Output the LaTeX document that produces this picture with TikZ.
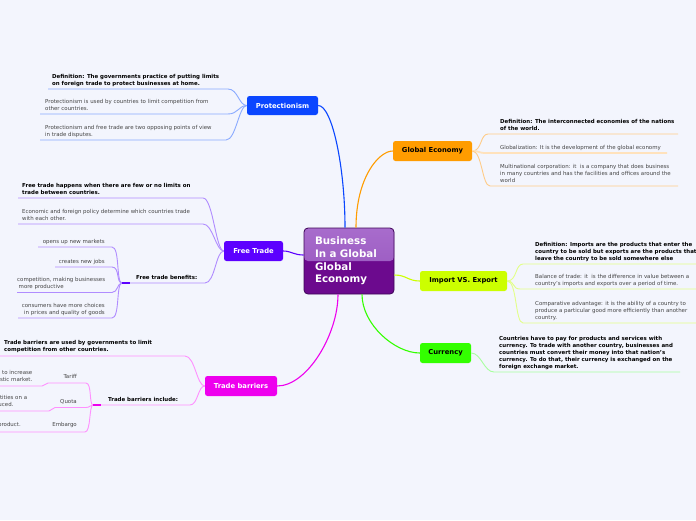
\documentclass[tikz,border=0pt]{standalone}
\usepackage{fontspec}
\setmainfont{DejaVu Sans}
\usetikzlibrary{calc}
\definecolor{bgc}{HTML}{F3F5FD}
\definecolor{protc}{HTML}{0A46FF}
\definecolor{protl}{HTML}{8AAAFF}
\definecolor{gec}{HTML}{FF9C00}
\definecolor{gel}{HTML}{FFCC88}
\definecolor{gell}{HTML}{FFE2BC}
\definecolor{ftc}{HTML}{5C00FF}
\definecolor{ftl}{HTML}{B08CFF}
\definecolor{iec}{HTML}{CCFF00}
\definecolor{iel}{HTML}{E2FF88}
\definecolor{curc}{HTML}{33FF00}
\definecolor{curl}{HTML}{A8FFA0}
\definecolor{tbc}{HTML}{EE00EE}
\definecolor{tbl}{HTML}{FF90FF}
\definecolor{subtext}{HTML}{444444}
\definecolor{ctopA}{HTML}{A86CCC}
\definecolor{ctop}{HTML}{9452BC}
\definecolor{cbot}{HTML}{6C0A8E}
\definecolor{cborder}{HTML}{3E0658}
\begin{document}
\begin{tikzpicture}[x=1pt,y=-1pt,
  sub/.style={font=\fontsize{5.45}{7}\selectfont, text=subtext, inner sep=0pt, align=left, anchor=south west, text depth=1.2pt},
  subb/.style={sub, font=\fontsize{5.45}{7}\selectfont\bfseries, text=black},
  subr/.style={sub, align=right, anchor=south east},
  mainn/.style={rounded corners=2.5pt, font=\fontsize{6.8}{8}\selectfont\bfseries, minimum height=20pt, inner sep=0pt},
  cline/.style={line width=1.1pt},
  lnk/.style={line width=0.9pt},
  stub/.style={line width=1.6pt},
]
\useasboundingbox (0,0) rectangle (696,520);
\clip (0,0) rectangle (696,520);
\fill[bgc] (0,0) rectangle (696,520);

% central node
\node[draw=cborder, line width=0.8pt, rounded corners=4pt, minimum width=90pt, minimum height=66pt,
  fill=cbot, text=white, font=\fontsize{10.3}{12.7}\selectfont\bfseries, align=left,
  text width=68pt, inner xsep=11pt, inner ysep=0pt,
  path picture={\fill[top color=ctopA, bottom color=ctop] (path picture bounding box.north west) rectangle (path picture bounding box.east);}]
  (c) at (349,261) {Business\\In a Global\\Global\\Economy};

% main topics
\node[mainn, fill=protc, text=white, minimum width=71pt, minimum height=19pt] (prot) at (282.5,105.5) {Protectionism};
\node[mainn, fill=gec, text=black, minimum width=79pt] (ge) at (432.5,151) {Global Economy};
\node[mainn, fill=ftc, text=white, minimum width=59pt] (ft) at (253.5,251) {Free Trade};
\node[mainn, fill=iec, text=black, minimum width=87pt] (ie) at (463.5,281) {Import VS. Export};
\node[mainn, fill=curc, text=black, minimum width=51pt] (cur) at (445.5,353) {Currency};
\node[mainn, fill=tbc, text=white, minimum width=72pt] (tb) at (241,386) {Trade barriers};

% central connectors
\draw[cline, protc] ([xshift=-4pt]c.north) .. controls +(0,-60) and +(14,0) .. (prot.east);
\draw[cline, gec] ([xshift=7pt]c.north) .. controls +(0,-50) and +(-14,0) .. (ge.west);
\draw[cline, ftc] ([yshift=6pt]c.west) .. controls +(-10,0) and +(8,0) .. (ft.east);
\draw[cline, iec] ([yshift=-14pt]c.east) .. controls +(12,0) and +(-12,0) .. (ie.west);
\draw[cline, curc] ([xshift=13pt]c.south) .. controls +(0,30) and +(-25,0) .. (cur.west);
\draw[cline, tbc] ([xshift=-11pt]c.south) .. controls +(0,40) and +(30,0) .. (tb.east);

% Protectionism
\node[subb] (p1) at (52,86.5) {Definition: The governments practice of putting limits\\on foreign trade to protect businesses at home.};
\node[sub] (p2) at (45,111.5) {Protectionism is used by countries to limit competition from\\other countries.};
\node[sub] (p3) at (45,137.5) {Protectionism and free trade are two opposing points of view\\in trade disputes.};
\coordinate (p1a) at (48,89); \coordinate (p1b) at (228,89);
\coordinate (p2a) at (40,114); \coordinate (p2b) at (228,114);
\coordinate (p3a) at (40,140); \coordinate (p3b) at (226,140);
\draw[lnk, protl] (p1a) -- (p1b) .. controls +(10,0) and +(-8,0) .. (prot.west);
\draw[lnk, protl] (p2a) -- (p2b) .. controls +(10,0) and +(-8,0) .. (prot.west);
\draw[lnk, protl] (p3a) -- (p3b) .. controls +(10,0) and +(-8,0) .. (prot.west);

% Global Economy
\node[subb] (g1) at (500,131.5) {Definition: The interconnected economies of the nations\\of the world.};
\node[sub] (g2) at (500,150.5) {Globalization: It is the development of the global economy};
\node[sub] (g3) at (500,183.5) {Multinational corporation: it\ \ is a company that does business\\in many countries and has the facilities and offices around the\\world};
\coordinate (g1a) at (488,134); \coordinate (g1b) at (678,134);
\coordinate (g2a) at (486,153); \coordinate (g2b) at (667,153);
\coordinate (g3a) at (490,186); \coordinate (g3b) at (678,186);
\draw[lnk, gel] (ge.east) .. controls +(10,0) and +(-8,0) .. (g1a) -- (g1b);
\draw[line width=1.8pt, gell] (ge.east) .. controls +(8,0) and +(-8,0) .. (g2a) -- (g2b);
\draw[lnk, gel] (ge.east) .. controls +(10,0) and +(-8,0) .. (g3a) -- (g3b);

% Import VS Export
\node[subb] (i1) at (535,261.5) {Definition: Imports are the products that enter the\\country to be sold but exports are the products that\\leave the country to be sold somewhere else};
\node[sub] (i2) at (535,286.5) {Balance of trade: it\ \ is the difference in value between a\\country's imports and exports over a period of time.};
\node[sub] (i3) at (535,320.5) {Comparative advantage: it is the ability of a country to\\produce a particular good more efficiently than another\\country.};
\coordinate (i1a) at (523,264); \coordinate (i1b) at (696,264);
\coordinate (i2a) at (520,289); \coordinate (i2b) at (696,289);
\coordinate (i3a) at (523,323); \coordinate (i3b) at (696,323);
\draw[lnk, iel] (ie.east) .. controls +(10,0) and +(-8,0) .. (i1a) -- (i1b);
\draw[lnk, iel] (ie.east) .. controls +(8,0) and +(-8,0) .. (i2a) -- (i2b);
\draw[lnk, iel] (ie.east) .. controls +(10,0) and +(-8,0) .. (i3a) -- (i3b);

% Currency
\node[subb] (c1) at (499,369.5) {Countries have to pay for products and services with\\currency. To trade with another country, businesses and\\countries must convert their money into that nation's\\currency. To do that, their currency is exchanged on the\\foreign exchange market.};
\coordinate (c1a) at (494,372); \coordinate (c1b) at (680,372);
\draw[lnk, curl] (cur.east) .. controls +(10,0) and +(-10,0) .. (c1a) -- (c1b);

% Free Trade
\node[subb] (f1) at (22,195.5) {Free trade happens when there are few or no limits on\\trade between countries.};
\node[sub] (f2) at (22,221.5) {Economic and foreign policy determine which countries trade\\with each other.};
\node[subb] (f3) at (136,280.5) {Free trade benefits:};
\coordinate (f1a) at (18,198); \coordinate (f1b) at (203,198);
\coordinate (f2a) at (18,224); \coordinate (f2b) at (203,224);
\coordinate (benj) at (122,283); \coordinate (f3b) at (205,283);
\draw[lnk, ftl] (f1a) -- (f1b) .. controls +(10,0) and +(-8,0) .. (ft.west);
\draw[lnk, ftl] (f2a) -- (f2b) .. controls +(10,0) and +(-8,0) .. (ft.west);
\draw[lnk, ftl] (benj) -- (f3b) .. controls +(10,0) and +(-8,0) .. (ft.west);

\node[subr] (b1) at (105,244.5) {opens up new markets};
\node[subr] (b2) at (105,264.5) {creates new jobs};
\node[sub] (b3) at (17,290) {competition, making businesses\\\hspace*{1.5pt}more productive};
\node[subr] (b4) at (105,315.5) {consumers have more choices\\in prices and quality of goods};
\coordinate (b1a) at (38,247); \coordinate (b1b) at (112,247);
\coordinate (b2a) at (55,267); \coordinate (b2b) at (112,267);
\coordinate (b3a) at (17,292.5); \coordinate (b3b) at (112,292.5);
\coordinate (b4a) at (18,318); \coordinate (b4b) at (112,318);
\draw[lnk, ftl] (b1a) -- (b1b) .. controls +(8,0) and +(-6,0) .. (benj);
\draw[lnk, ftl] (b2a) -- (b2b) .. controls +(8,0) and +(-6,0) .. (benj);
\draw[lnk, ftl] (b3a) -- (b3b) .. controls +(6,0) and +(-5,0) .. (benj);
\draw[lnk, ftl] (b4a) -- (b4b) .. controls +(8,0) and +(-6,0) .. (benj);
\draw[stub, ftc] (benj) -- ++(8,0);

% Trade barriers
\node[subb] (t1) at (4,353) {Trade barriers are used by governments to limit\\competition from other countries.};
\node[subb] (t2) at (108,402.5) {Trade barriers include:};
\coordinate (t1a) at (0,356); \coordinate (t1b) at (185,356);
\coordinate (tbj) at (93,405); \coordinate (t2b) at (190,405);
\draw[lnk, tbl] (t1a) -- (t1b) .. controls +(10,0) and +(-8,0) .. (tb.west);
\draw[lnk, tbl] (tbj) -- (t2b) .. controls +(8,0) and +(-7,0) .. (tb.west);

\node[subr] (tar) at (77,379.8) {Tariff};
\node[subr] (quo) at (77,405.3) {Quota};
\node[subr] (emb) at (77,427.6) {Embargo};
\node[subr] (tarc) at (32.5,383) {Tax on imports used to increase\\prices in the domestic market.};
\node[sub, anchor=south east] (quoc) at (27.3,408.3) {Limit on the quantities on a\\good that is produced.};
\node[subr] (embc) at (21,427.6) {A ban on trade of a certain product.};
\coordinate (tara) at (48,383); \coordinate (tarb) at (86,383);
\coordinate (quoa) at (55,407.5); \coordinate (quob) at (86,407.5);
\coordinate (emba) at (0,432); \coordinate (embb) at (85,432);
\coordinate (tarca) at (0,386); \coordinate (tarcb) at (42,386);
\coordinate (quoca) at (0,411); \coordinate (quocb) at (49,411);
\draw[lnk, tbl] (tara) -- (tarb) .. controls +(6,0) and +(-4,0) .. (tbj);
\draw[lnk, tbl] (quoa) -- (quob) .. controls +(4,0) and +(-3,0) .. (tbj);
\draw[lnk, tbl] (emba) -- (embb) .. controls +(6,0) and +(-4,0) .. (tbj);
\draw[lnk, tbl] (tarca) -- (tarcb) .. controls +(3,0) and +(-3,0) .. (tara);
\draw[lnk, tbl] (quoca) -- (quocb) .. controls +(3,0) and +(-3,0) .. (quoa);
\draw[stub, tbc] (tbj) -- ++(8,0);
\end{tikzpicture}
\end{document}
